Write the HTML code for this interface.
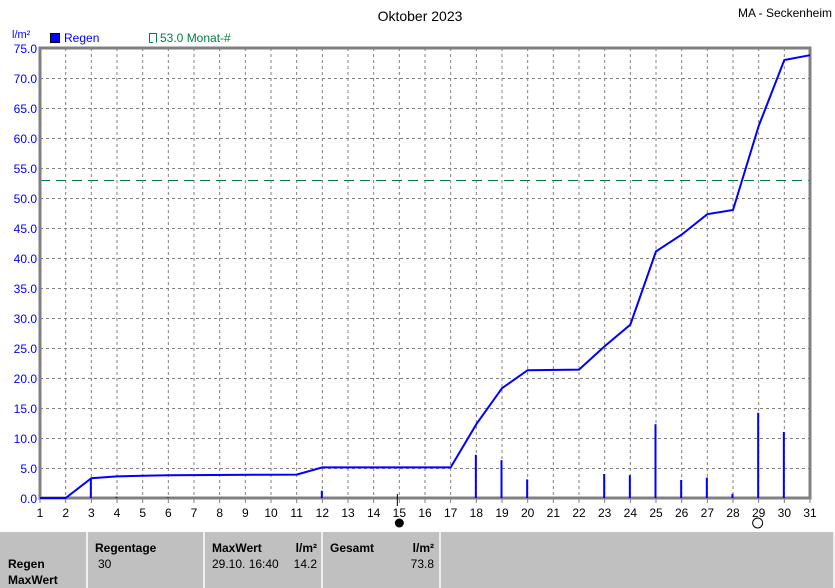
<!DOCTYPE html>
<html><head><meta charset="utf-8"><style>
body{margin:0;background:#fff;width:835px;height:588px;overflow:hidden;font-family:"Liberation Sans",Arial,sans-serif}
svg{position:absolute;left:0;top:0}
</style></head><body>
<svg id="s" width="835" height="588" xmlns="http://www.w3.org/2000/svg" font-family="Liberation Sans, Arial, sans-serif"></svg>
<script>
const s=document.getElementById('s');let h='';
const X=d=>40+(d-1)*770/30, Y=v=>498-6*v;
h+='<text x="420" y="21" font-size="14" text-anchor="middle" fill="#000">Oktober 2023</text>';
h+='<text x="832" y="17" font-size="12" text-anchor="end" fill="#000">MA - Seckenheim</text>';
h+='<text x="12" y="38" font-size="11" fill="#0000ff">l/m²</text>';
h+='<rect x="50.5" y="33.5" width="9" height="9" fill="#0000ff" stroke="#000"/><text x="64" y="42" font-size="12" fill="#0000ff">Regen</text>';
h+='<path d="M149.5 42.5V33.5H156.5V42.5M149.5 42.5H153" stroke="#008040" fill="none"/><text x="160" y="42" font-size="12" fill="#008040">53.0 Monat-#</text>';
for(let v=0;v<=75;v+=5){const y=Y(v);
 if(v>0&&v<75)h+=`<line x1="40" x2="810" y1="${y+.5}" y2="${y+.5}" stroke="#808080" stroke-dasharray="3,3"/>`;
 h+=`<text x="37" y="${y+5}" font-size="12" text-anchor="end" fill="#0000ff">${v.toFixed(1)}</text>`;}
for(let d=1;d<=31;d++){const x=X(d);
 if(d>1&&d<31)h+=`<line x1="${x}" x2="${x}" y1="48" y2="498" stroke="#808080" stroke-dasharray="3,3"/>`;
 h+=`<line x1="${x}" x2="${x}" y1="498" y2="503" stroke="#808080"/>`;
 h+=`<text x="${x}" y="517" font-size="12" text-anchor="middle" fill="#000">${d}</text>`;}
h+='<line x1="40" x2="810" y1="180.5" y2="180.5" stroke="#008040" stroke-dasharray="10,6"/>';
h+='<path d="M40 48H810V498H40Z" fill="none" stroke="#808080" stroke-width="3"/>';
const bars={3:3.3,4:.2,6:.1,12:1.2,18:7.2,19:6.3,20:3.1,23:4,24:3.8,25:12.3,26:3,27:3.4,28:.7,29:14.2,30:11};
for(const d in bars){const x=X(+d)-0.5;h+=`<rect x="${x-1}" y="${Y(bars[d])}" width="2" height="${6*bars[d]}" fill="#0000ff"/>`;}
const pts=[[1,0],[2,0],[3,3.3],[4,3.6],[5,3.7],[6,3.8],[11,3.9],[12,5.1],[17,5.1],[18,12.3],[19,18.3],[20,21.3],[22,21.4],[23,25.3],[24,28.9],[25,41.1],[26,43.9],[27,47.3],[28,48],[29,62],[30,73],[31,73.8]];
h+='<polyline fill="none" stroke="#0000ff" stroke-width="2" points="'+pts.map(p=>X(p[0])+','+Y(p[1])).join(' ')+'"/>';
h+=`<line x1="${X(15)-2}" x2="${X(15)-2}" y1="494" y2="506" stroke="#000"/><circle cx="${X(15)}" cy="523" r="4.5" fill="#000"/>`;
h+=`<circle cx="${X(29)-1}" cy="523" r="5" fill="#fff" stroke="#000"/>`;
h+='<rect x="0" y="532" width="835" height="56" fill="#c0c0c0"/>';
[87,204,322,440,834].forEach(x=>h+=`<line x1="${x}" x2="${x}" y1="532" y2="588" stroke="#fff" stroke-width="1.5"/>`);
const t=(x,y,s,a,b)=>h+=`<text x="${x}" y="${y}" font-size="12" ${b?'font-weight="bold"':''} ${a?'text-anchor="end"':''} fill="#000">${s}</text>`;
t(8,568,'Regen',0,1);t(8,584,'MaxWert',0,1);
t(95,552,'Regentage',0,1);t(98,568,'30');
t(212,552,'MaxWert',0,1);t(317,552,'l/m²',1,1);t(212,568,'29.10.  16:40');t(317,568,'14.2',1);
t(330,552,'Gesamt',0,1);t(434,552,'l/m²',1,1);t(434,568,'73.8',1);
s.innerHTML=h;
</script>
</body></html>
